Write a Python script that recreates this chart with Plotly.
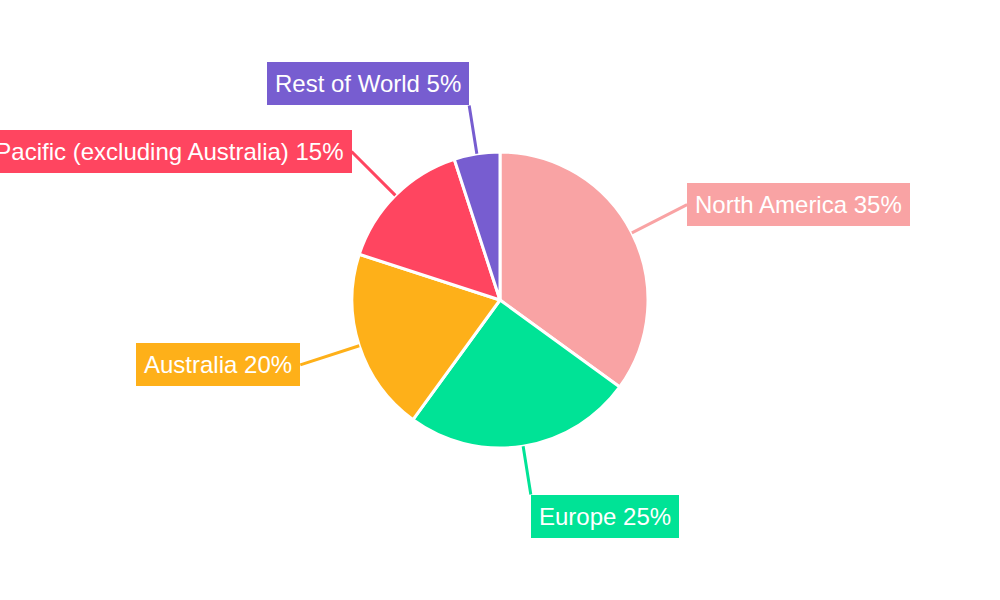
import math
import plotly.graph_objects as go

regions = ["North America", "Europe", "Australia", "Asia Pacific (excluding Australia)", "Rest of World"]
shares = [35, 25, 20, 15, 5]
colors = ["#F9A3A4", "#00E396", "#FEB019", "#FF4560", "#775DD0"]

W, H = 1000, 600
R = 148  # pie radius in px
dom_h = 2 * R / H

fig = go.Figure(go.Pie(
    labels=regions,
    values=shares,
    sort=False,
    direction="clockwise",
    rotation=0,
    textinfo="none",
    hoverinfo="label+percent",
    marker=dict(colors=colors, line=dict(color="white", width=3)),
    domain=dict(x=[0, 1], y=[0.5 - dom_h / 2, 0.5 + dom_h / 2]),
    showlegend=False,
))

total = sum(shares)
cum = 0
annotations = []
for name, val, col in zip(regions, shares, colors):
    mid = (cum + val / 2) / total * 2 * math.pi
    cum += val
    s, c = math.sin(mid), math.cos(mid)
    hx = 0.5 + R * s / W
    hy = 0.5 + R * c / H
    if abs(s) > 0.5:
        rt = 210
        xanchor = "left" if s > 0 else "right"
        yanchor = "middle"
    else:
        rt = 197
        xanchor = "left" if s > 0 else "right"
        yanchor = "bottom" if c > 0 else "top"
    ax = (rt - R) * s
    ay = -(rt - R) * c
    annotations.append(dict(
        x=hx, y=hy, xref="paper", yref="paper",
        ax=ax, ay=ay, axref="pixel", ayref="pixel",
        text=f"{name} {val}%",
        showarrow=True, arrowhead=0, arrowwidth=3, arrowcolor=col, standoff=0,
        xanchor=xanchor, yanchor=yanchor,
        bgcolor=col, borderpad=8, borderwidth=0,
        font=dict(family="Liberation Sans, Arial, sans-serif", size=24, color="white"),
    ))

fig.update_layout(
    width=W, height=H,
    margin=dict(l=0, r=0, t=0, b=0),
    paper_bgcolor="white",
    plot_bgcolor="white",
    annotations=annotations,
)

fig.write_html("out.html", config={"displayModeBar": False},
               post_script="document.body.style.margin='0';")
